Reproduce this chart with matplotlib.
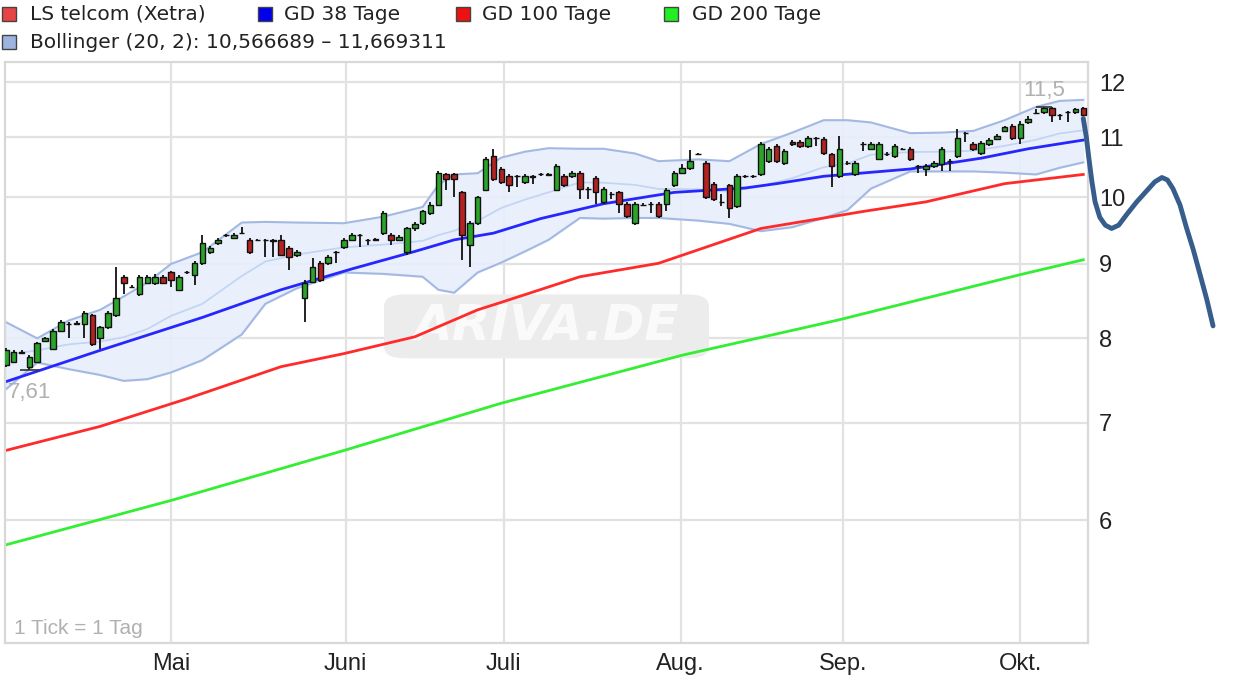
import numpy as np
import matplotlib
matplotlib.use('Agg')
import matplotlib.pyplot as plt
from matplotlib.patches import Rectangle, FancyBboxPatch
from matplotlib.ticker import NullLocator

# daily candles (trading days), values in EUR
opens = [7.67, 7.71, 7.83, 7.64, 7.71, 7.97, 7.87, 8.10, 8.19, 8.19,
         8.19, 8.30, 8.00, 8.14, 8.30, 8.81, 8.68, 8.58, 8.74, 8.74,
         8.82, 8.88, 8.64, 8.88, 8.85, 9.01, 9.17, 9.30, 9.42, 9.38,
         9.45, 9.35, 9.35, 9.35, 9.35, 9.35, 9.23, 9.13, 8.53, 8.75,
         9.01, 9.01, 9.17, 9.25, 9.35, 9.42, 9.35, 9.35, 9.45, 9.42,
         9.35, 9.17, 9.52, 9.61, 9.75, 9.88, 10.37, 10.37, 10.08, 9.28,
         9.61, 10.12, 10.68, 10.46, 10.34, 10.34, 10.25, 10.34, 10.37, 10.36,
         10.12, 10.34, 10.34, 10.39, 10.14, 10.31, 9.93, 10.05, 10.08, 9.90,
         9.61, 9.88, 9.90, 9.90, 9.90, 10.20, 10.39, 10.47, 10.71, 10.56,
         10.22, 9.93, 10.20, 9.86, 10.34, 10.34, 10.37, 10.59, 10.85, 10.56,
         10.92, 10.92, 10.85, 10.98, 10.97, 10.71, 10.34, 10.56, 10.37, 10.88,
         10.80, 10.63, 10.71, 10.68, 10.80, 10.80, 10.51, 10.46, 10.51, 10.54,
         10.59, 10.68, 11.07, 10.88, 10.73, 10.88, 10.97, 11.11, 11.20, 10.98,
         11.26, 11.43, 11.44, 11.52, 11.39, 11.44, 11.44, 11.52]
highs = [7.88, 7.86, 7.85, 7.79, 7.96, 8.02, 8.12, 8.23, 8.21, 8.22,
         8.35, 8.32, 8.16, 8.35, 8.95, 8.84, 8.70, 8.85, 8.85, 8.86,
         8.85, 8.90, 8.85, 8.90, 9.04, 9.42, 9.26, 9.38, 9.44, 9.45,
         9.54, 9.38, 9.37, 9.37, 9.37, 9.42, 9.26, 9.20, 8.77, 9.09,
         9.04, 9.13, 9.19, 9.38, 9.45, 9.44, 9.37, 9.38, 9.78, 9.45,
         9.42, 9.55, 9.62, 9.81, 9.93, 10.42, 10.40, 10.40, 10.10, 9.64,
         10.03, 10.66, 10.80, 10.49, 10.37, 10.36, 10.37, 10.36, 10.39, 10.39,
         10.54, 10.37, 10.42, 10.42, 10.16, 10.34, 10.17, 10.08, 10.10, 9.93,
         9.93, 9.91, 9.92, 9.93, 10.15, 10.42, 10.54, 10.78, 10.73, 10.59,
         10.25, 10.05, 10.22, 10.37, 10.36, 10.36, 10.91, 10.83, 10.88, 10.79,
         10.95, 10.95, 11.02, 11.01, 11.00, 10.73, 11.02, 10.59, 10.59, 10.91,
         10.91, 10.91, 10.74, 10.88, 10.82, 10.83, 10.53, 10.54, 10.59, 10.83,
         10.62, 11.15, 11.09, 10.91, 10.93, 10.98, 11.05, 11.20, 11.24, 11.28,
         11.37, 11.50, 11.54, 11.54, 11.41, 11.47, 11.52, 11.54]
lows = [7.65, 7.69, 7.80, 7.61, 7.69, 7.95, 7.85, 8.08, 8.00, 8.17,
        8.00, 7.91, 7.87, 8.12, 8.28, 8.58, 8.66, 8.55, 8.72, 8.70,
        8.72, 8.68, 8.62, 8.86, 8.71, 8.99, 9.15, 9.28, 9.40, 9.36,
        9.43, 9.15, 9.33, 9.10, 9.10, 9.11, 8.92, 9.10, 8.21, 8.73,
        8.75, 8.99, 9.01, 9.22, 9.33, 9.25, 9.28, 9.33, 9.42, 9.28,
        9.33, 9.13, 9.48, 9.58, 9.72, 9.86, 10.12, 10.00, 9.06, 8.95,
        9.58, 10.10, 10.26, 10.22, 10.08, 10.17, 10.22, 10.22, 10.35, 10.34,
        10.10, 10.17, 10.32, 9.97, 9.97, 9.90, 9.90, 9.97, 9.75, 9.68,
        9.58, 9.86, 9.75, 9.68, 9.78, 10.17, 10.37, 10.45, 10.69, 9.97,
        9.94, 9.86, 9.68, 9.83, 10.32, 10.32, 10.34, 10.56, 10.56, 10.53,
        10.85, 10.82, 10.82, 10.85, 10.70, 10.17, 10.31, 10.53, 10.34, 10.76,
        10.78, 10.61, 10.68, 10.65, 10.78, 10.60, 10.39, 10.34, 10.48, 10.42,
        10.42, 10.65, 10.92, 10.76, 10.70, 10.85, 10.95, 11.09, 10.95, 10.88,
        11.24, 11.41, 11.42, 11.26, 11.30, 11.26, 11.42, 11.37]
closes = [7.85, 7.83, 7.82, 7.77, 7.94, 8.00, 8.10, 8.21, 8.19, 8.20,
          8.33, 7.93, 8.14, 8.33, 8.53, 8.74, 8.68, 8.82, 8.82, 8.81,
          8.74, 8.78, 8.82, 8.88, 9.01, 9.30, 9.23, 9.35, 9.42, 9.42,
          9.45, 9.17, 9.35, 9.35, 9.34, 9.13, 9.10, 9.17, 8.74, 8.95,
          8.78, 9.10, 9.17, 9.35, 9.42, 9.42, 9.35, 9.36, 9.75, 9.35,
          9.39, 9.52, 9.59, 9.78, 9.88, 10.39, 10.29, 10.29, 9.42, 9.61,
          10.00, 10.63, 10.29, 10.25, 10.20, 10.34, 10.34, 10.33, 10.37, 10.37,
          10.51, 10.20, 10.39, 10.14, 10.14, 10.08, 10.14, 10.05, 9.90, 9.71,
          9.90, 9.88, 9.90, 9.71, 10.12, 10.39, 10.47, 10.59, 10.71, 10.00,
          9.97, 9.93, 9.83, 10.34, 10.34, 10.35, 10.88, 10.80, 10.59, 10.76,
          10.88, 10.85, 10.98, 10.98, 10.73, 10.51, 10.80, 10.56, 10.56, 10.88,
          10.88, 10.88, 10.71, 10.85, 10.80, 10.63, 10.51, 10.51, 10.56, 10.80,
          10.59, 10.98, 11.07, 10.80, 10.90, 10.95, 11.02, 11.17, 10.98, 11.24,
          11.33, 11.43, 11.52, 11.39, 11.39, 11.44, 11.50, 11.39]

# moving averages, read at a few trading-day indices
gd38_idx = [0, 12, 25, 35, 44, 52, 57, 62, 68, 76, 85, 94, 98, 104, 115, 124, 130, 137]
gd38 = [7.47, 7.85, 8.27, 8.64, 8.93, 9.18, 9.35, 9.45, 9.67, 9.90, 10.08, 10.15,
        10.22, 10.34, 10.46, 10.64, 10.80, 10.95]
gd100_idx = [0, 12, 23, 35, 43, 52, 60, 63, 73, 83, 96, 109, 117, 127, 137]
gd100 = [6.70, 6.96, 7.27, 7.65, 7.81, 8.02, 8.37, 8.47, 8.82, 9.01, 9.52, 9.78,
         9.93, 10.22, 10.37]
gd200_idx = [0, 21, 43, 63, 86, 106, 129, 137]
gd200 = [5.77, 6.19, 6.70, 7.22, 7.79, 8.24, 8.85, 9.06]

# Bollinger (20, 2)
bb_idx = [0, 4, 8, 12, 15, 18, 21, 25, 30, 33, 37, 43, 48, 53, 55, 57, 60, 63, 66,
          69, 73, 76, 80, 83, 88, 92, 96, 100, 104, 107, 110, 115, 119, 123, 127,
          131, 134, 137]
bb_upper = [8.21, 8.00, 8.23, 8.37, 8.55, 8.74, 9.00, 9.17, 9.61, 9.62, 9.61, 9.60,
            9.70, 9.85, 10.20, 10.37, 10.39, 10.65, 10.75, 10.81, 10.80, 10.80,
            10.72, 10.59, 10.62, 10.59, 10.88, 11.08, 11.30, 11.30, 11.26, 11.07,
            11.08, 11.11, 11.30, 11.54, 11.65, 11.67]
bb_lower = [7.38, 7.70, 7.62, 7.55, 7.48, 7.50, 7.58, 7.73, 8.05, 8.45, 8.66, 8.88,
            8.86, 8.82, 8.64, 8.60, 8.88, 9.02, 9.18, 9.35, 9.68, 9.67, 9.68, 9.68,
            9.64, 9.59, 9.48, 9.54, 9.68, 9.80, 10.14, 10.42, 10.42, 10.42, 10.40,
            10.37, 10.48, 10.57]

# hand drawn outlook to the right of the chart
outlook_idx = [137.0, 137.4, 137.7, 138.1, 138.5, 139.1, 139.8, 140.6, 141.5, 142.5,
               143.8, 145.1, 146.1, 147.0, 147.7, 148.4, 149.3, 150.1, 151.0, 151.9,
               152.7, 153.5]
outlook = [11.33, 10.99, 10.65, 10.25, 9.93, 9.69, 9.57, 9.52, 9.57, 9.73,
           9.93, 10.11, 10.25, 10.32, 10.28, 10.14, 9.88, 9.54, 9.20, 8.83,
           8.51, 8.16]

month_pos = [21, 43.2, 63.3, 85.8, 106.5, 129]
month_labels = ['Mai', 'Juni', 'Juli', 'Aug.', 'Sep.', 'Okt.']
yticks = [6, 7, 8, 9, 10, 11, 12]

narrow = ['Liberation Sans Narrow', 'Liberation Sans', 'DejaVu Sans']

fig = plt.figure(figsize=(12.35, 6.85), dpi=100)
ax = fig.add_axes([5 / 1235, 42 / 685, 1083 / 1235, 581 / 685])
ax.set_yscale('log')
ax.set_xlim(-0.1, 137.6)
ax.set_ylim(4.94, 12.39)

for v in yticks:
    ax.axhline(v, color='#e2e2e2', lw=1.6, zorder=0)
for m in month_pos:
    ax.axvline(m, color='#e2e2e2', lw=1.6, zorder=0)
for s in ax.spines.values():
    s.set_color('#d8d8d8')
    s.set_linewidth(1.6)

# watermark
ax.add_patch(FancyBboxPatch((0.358, 0.498), 0.284, 0.094, boxstyle='round,pad=0.008,rounding_size=0.02',
                            transform=ax.transAxes, facecolor='#ececec', edgecolor='none', zorder=0.5))
ax.text(0.50, 0.545, 'ARIVA.DE', transform=ax.transAxes, ha='center', va='center',
        fontsize=36, fontstyle='italic', fontweight='bold', color='#fafafa', zorder=0.6)

# bollinger band
bb_up = np.array(bb_upper)
bb_lo = np.array(bb_lower)
ax.fill_between(bb_idx, bb_lo, bb_up, color='#e8effb', alpha=0.9, zorder=1)
ax.plot(bb_idx, bb_up, color='#a3b9e3', lw=1.5, zorder=1.5)
ax.plot(bb_idx, bb_lo, color='#a3b9e3', lw=1.5, zorder=1.5)
ax.plot(bb_idx, (bb_up + bb_lo) / 2, color='#c3d5f4', lw=1.3, zorder=1.5)

# moving averages
ax.plot(gd200_idx, gd200, color='#33ee33', lw=2, zorder=2)
ax.plot(gd100_idx, gd100, color='#ff2a2a', lw=2, zorder=2)
ax.plot(gd38_idx, gd38, color='#2626ff', lw=2, zorder=2)

# candles
o = np.array(opens)
c = np.array(closes)
x = np.arange(len(o))
up = c >= o
ax.vlines(x, lows, highs, color='#111111', lw=1.3, zorder=3)
ax.bar(x[up], (c - o)[up], bottom=o[up], width=0.7, color='#2aa52a', edgecolor='#111111', lw=1.0, zorder=4)
ax.bar(x[~up], (o - c)[~up], bottom=c[~up], width=0.7, color='#b52222', edgecolor='#111111', lw=1.0, zorder=4)

# high / low markers
hi_i = int(np.argmax(highs))
lo_i = int(np.argmin(lows))
ax.hlines(highs[hi_i], hi_i - 1, hi_i + 1, color='#333333', lw=1.2, zorder=4)
ax.hlines(lows[lo_i], lo_i - 1.2, lo_i + 1.2, color='#333333', lw=1.2, zorder=4)
ax.annotate(f'{highs[hi_i]:.1f}'.replace('.', ','), (hi_i, highs[hi_i]), xytext=(0, 4),
            textcoords='offset points', ha='center', va='bottom', fontsize=16,
            color='#b0b0b0', family=narrow, zorder=5)
ax.annotate(f'{lows[lo_i]:.2f}'.replace('.', ','), (lo_i, lows[lo_i]), xytext=(0, -9),
            textcoords='offset points', ha='center', va='top', fontsize=16,
            color='#b0b0b0', family=narrow, zorder=5)
ax.text(0.008, 0.008, '1 Tick = 1 Tag', transform=ax.transAxes, fontsize=15,
        color='#b0b0b0', family=narrow, ha='left', va='bottom')

# outlook curve
ax.plot(outlook_idx, outlook, color='#375d8c', lw=3.5, clip_on=False,
        solid_capstyle='round', solid_joinstyle='round', zorder=6)

# axes ticks
ax.yaxis.tick_right()
ax.yaxis.set_minor_locator(NullLocator())
ax.set_yticks(yticks)
ax.set_yticklabels([str(v) for v in yticks])
ax.set_xticks(month_pos)
ax.set_xticklabels(month_labels)
ax.tick_params(length=0, labelsize=17, labelcolor='#222222')
ax.tick_params(axis='y', pad=8)
ax.tick_params(axis='x', pad=7)
for lbl in ax.get_yticklabels() + ax.get_xticklabels():
    lbl.set_family(narrow)

# legend on top
legend = [('LS telcom (Xetra)', '#e84444', 2, 30, 14),
          ('GD 38 Tage', '#0000ee', 258, 284, 14),
          ('GD 100 Tage', '#ee1111', 456, 482, 14),
          ('GD 200 Tage', '#22ee22', 664, 692, 14),
          ('Bollinger (20, 2): 10,566689 \u2013 11,669311', '#9db4e0', 2, 30, 42)]
for label, col, sx, tx, cy in legend:
    fig.add_artist(Rectangle((sx / 1235, 1 - (cy + 7) / 685), 14 / 1235, 14 / 685,
                             transform=fig.transFigure, facecolor=col, edgecolor='#444444', lw=1))
    fig.text(tx / 1235, 1 - cy / 685, label, fontsize=14.5, color='#222222',
             family='DejaVu Sans', ha='left', va='center')

fig.savefig('out.png', dpi=100, facecolor='white')
